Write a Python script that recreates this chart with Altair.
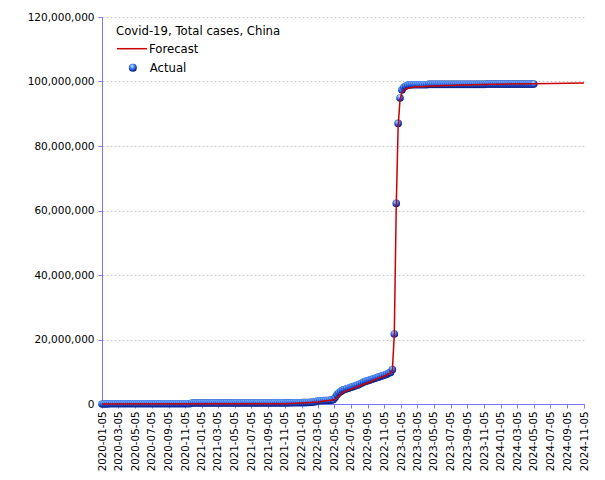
import altair as alt
import pandas as pd

# Weekly actual totals (millions), starting 2020-01-05
actual_start = "2020-01-05"
actual_m = [
    0.0, 0.0, 0.01, 0.03, 0.06, 0.08, 0.08, 0.08, 0.08, 0.08,
    0.08, 0.08, 0.08, 0.09, 0.09, 0.09, 0.09, 0.09, 0.09, 0.09,
    0.09, 0.09, 0.09, 0.09, 0.09, 0.09, 0.09, 0.09, 0.09, 0.09,
    0.09, 0.09, 0.09, 0.09, 0.09, 0.09, 0.09, 0.09, 0.09, 0.09,
    0.09, 0.09, 0.09, 0.09, 0.09, 0.09, 0.09, 0.3, 0.3, 0.3,
    0.3, 0.3, 0.3, 0.3, 0.3, 0.3, 0.3, 0.3, 0.3, 0.3,
    0.3, 0.3, 0.3, 0.3, 0.3, 0.3, 0.3, 0.3, 0.3, 0.3,
    0.31, 0.31, 0.31, 0.31, 0.31, 0.31, 0.31, 0.31, 0.31, 0.31,
    0.32, 0.32, 0.32, 0.32, 0.32, 0.32, 0.32, 0.32, 0.32, 0.32,
    0.33, 0.33, 0.33, 0.33, 0.33, 0.33, 0.33, 0.34, 0.35, 0.36,
    0.37, 0.38, 0.39, 0.4, 0.4, 0.41, 0.42, 0.44, 0.46, 0.5,
    0.55, 0.6, 0.75, 0.9, 1.0, 1.0, 1.05, 1.1, 1.1, 1.15,
    1.2, 1.3, 2.0, 2.9, 3.5, 3.9, 4.3, 4.5, 4.7, 4.9,
    5.1, 5.3, 5.5, 5.7, 5.9, 6.2, 6.5, 6.8, 7.0, 7.2,
    7.4, 7.6, 7.8, 8.0, 8.2, 8.4, 8.6, 8.8, 9.0, 9.2,
    9.5, 9.8, 10.7, 21.7, 62.2, 87.0, 94.9, 97.4, 98.2, 98.6,
    98.8, 98.9, 99.0, 99.0, 99.0, 99.0, 99.0, 99.0, 99.0, 99.0,
    99.0, 99.1, 99.1, 99.1, 99.1, 99.1, 99.1, 99.1, 99.1, 99.1,
    99.1, 99.1, 99.1, 99.1, 99.1, 99.1, 99.1, 99.1, 99.1, 99.1,
    99.1, 99.1, 99.1, 99.1, 99.1, 99.1, 99.1, 99.1, 99.1, 99.1,
    99.1, 99.2, 99.2, 99.2, 99.2, 99.2, 99.2, 99.2, 99.2, 99.2,
    99.2, 99.2, 99.2, 99.2, 99.2, 99.2, 99.2, 99.2, 99.2, 99.2,
    99.2, 99.2, 99.2, 99.2, 99.2, 99.2, 99.2,
]
actual_dates = pd.date_range(actual_start, periods=len(actual_m), freq="7D").strftime("%Y-%m-%d").tolist()

# Forecast curve (millions)
forecast_dates = [
    "2020-01-05", "2021-11-05", "2022-01-05", "2022-03-05", "2022-05-05",
    "2022-05-20", "2022-06-05", "2022-07-05", "2022-08-05", "2022-09-05",
    "2022-10-05", "2022-11-05", "2022-11-27", "2022-12-04", "2022-12-11",
    "2022-12-18", "2022-12-25", "2023-01-01", "2023-01-08", "2023-01-22",
    "2023-02-26", "2023-04-30", "2023-07-15", "2023-10-30", "2024-05-05",
    "2024-11-05",
]
forecast_m = [
    0.0, 0.1, 0.3, 0.6, 1.3,
    2.4, 3.6, 4.6, 5.6, 6.6,
    7.7, 8.7, 9.6, 10.5, 21.7,
    61.0, 86.0, 94.5, 96.5, 97.8,
    98.3, 98.6, 98.8, 99.1, 99.3,
    99.5,
]

tick_labels = [
    "2020-01-05", "2020-03-05", "2020-05-05", "2020-07-05", "2020-09-05", "2020-11-05",
    "2021-01-05", "2021-03-05", "2021-05-05", "2021-07-05", "2021-09-05", "2021-11-05",
    "2022-01-05", "2022-03-05", "2022-05-05", "2022-07-05", "2022-09-05", "2022-11-05",
    "2023-01-05", "2023-03-05", "2023-05-05", "2023-07-05", "2023-09-05", "2023-11-05",
    "2024-01-05", "2024-03-05", "2024-05-05", "2024-07-05", "2024-09-05", "2024-11-05",
]
y_ticks = [0, 20e6, 40e6, 60e6, 80e6, 100e6, 120e6]

legend_title = "Covid-19, Total cases, China"

FONT = "DejaVu Sans"
AXIS_BLUE = "#7878ff"


def dt(s):
    y, m, d = (int(p) for p in s.split("-"))
    return alt.DateTime(year=y, month=m, date=d, utc=True)


actual_df = pd.DataFrame({"date": actual_dates, "cases": [v * 1e6 for v in actual_m], "series": "Actual"})
forecast_df = pd.DataFrame({"date": forecast_dates, "cases": [v * 1e6 for v in forecast_m], "series": "Forecast"})

x_enc = alt.X(
    "date:T",
    scale=alt.Scale(type="utc", domain=[dt(tick_labels[0]), dt(tick_labels[-1])], nice=False),
    axis=alt.Axis(
        values=[dt(t) for t in tick_labels],
        labelExpr="utcFormat(datum.value, '%Y-%m-%d')",
        labelAngle=270, title=None, grid=False,
        domainColor=AXIS_BLUE, tickColor=AXIS_BLUE, tickSize=4,
        labelFont=FONT, labelFontSize=10.3, labelColor="#000000", labelPadding=3,
        labelOverlap=False, labelFlush=False,
    ),
)
y_enc = alt.Y(
    "cases:Q",
    scale=alt.Scale(domain=[0, 120e6], nice=False),
    axis=alt.Axis(
        values=y_ticks, labelExpr="format(datum.value, ',')", title=None, grid=True,
        gridDash=[2, 2], gridColor="#cccccc",
        domainColor=AXIS_BLUE, tickColor=AXIS_BLUE, tickSize=4,
        labelFont=FONT, labelFontSize=10.5, labelColor="#000000", labelPadding=4,
    ),
)

sphere = alt.RadialGradient(
    gradient="radial",
    stops=[
        alt.GradientStop(offset=0, color="#e2f2ff"),
        alt.GradientStop(offset=0.3, color="#64a6ff"),
        alt.GradientStop(offset=0.65, color="#1d4fd6"),
        alt.GradientStop(offset=1, color="#000050"),
    ],
    x1=0.4, y1=0.25, r1=0, x2=0.45, y2=0.4, r2=0.65,
)

points = alt.Chart(actual_df).mark_point(
    filled=True, fill=sphere, size=58, opacity=1, strokeWidth=0
).encode(
    x=x_enc,
    y=y_enc,
    shape=alt.Shape(
        "series:N",
        scale=alt.Scale(domain=["Actual"], range=["circle"]),
        legend=alt.Legend(
            title=None, orient="none", legendX=14, legendY=45, padding=0,
            labelFont=FONT, labelFontSize=11.7, labelColor="#000000",
            symbolSize=64, symbolOffset=11, labelOffset=11,
            symbolFillColor="#2a6ae8", symbolStrokeWidth=0,
        ),
    ),
)

line = alt.Chart(forecast_df).mark_line(strokeWidth=1.5).encode(
    x=x_enc,
    y=y_enc,
    color=alt.Color(
        "series:N",
        scale=alt.Scale(domain=["Forecast"], range=["#cc0000"]),
        legend=alt.Legend(
            title=legend_title, orient="none", legendX=14, legendY=9, padding=0,
            titleFont=FONT, titleFontSize=11.7, titleFontWeight="normal", titleColor="#000000",
            titlePadding=5,
            labelFont=FONT, labelFontSize=11.7, labelColor="#000000",
            symbolType="M-3,0H3", symbolSize=100, symbolOffset=10, labelOffset=11,
            symbolStrokeWidth=1.5, symbolStrokeColor="#ff3c00",
        ),
    ),
)

chart = alt.layer(points, line).properties(
    width=482, height=387,
    autosize=alt.AutoSizeParams(type="none"),
    padding={"left": 102, "top": 17, "right": 21, "bottom": 76},
    background="#ffffff",
).configure_view(stroke=None)

chart.save("out.html", embed_options={"renderer": "svg", "actions": False})
